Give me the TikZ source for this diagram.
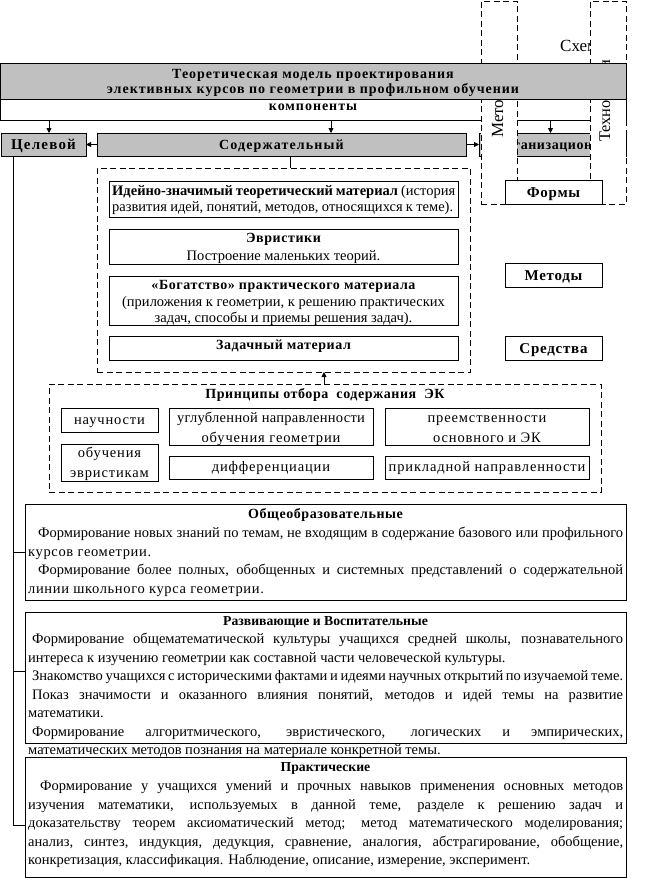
\documentclass[tikz,border=0pt]{standalone}
\usepackage{fontspec}
\setmainfont{Liberation Serif}
\newfontfamily\lsA[LetterSpace=4]{Liberation Serif}
\newfontfamily\lsB[LetterSpace=8]{Liberation Serif}
\newfontfamily\lsC[LetterSpace=6]{Liberation Serif}
\newfontfamily\lsD[LetterSpace=2]{Liberation Serif}
\newfontfamily\lsE[LetterSpace=5]{Liberation Serif}
\newfontfamily\lsT[LetterSpace=7]{Liberation Serif}
\newfontfamily\lsG[LetterSpace=4.5]{Liberation Serif}
\usetikzlibrary{arrows.meta,calc}
\definecolor{boxgray}{HTML}{C0C0C0}
\newcommand\bodyf{\fontsize{14.5}{16}\selectfont}
\newcommand\headf{\lsA\bfseries\fontsize{14}{16}\selectfont}
\newcommand\smallf{\lsC\fontsize{14.5}{16}\selectfont}
\newlength\jw
\setlength\jw{595pt}
\newcommand\jl[2][\jw]{{\spaceskip=0.25em plus 1em minus 0.12em\makebox[#1][s]{#2}}}
\tikzset{
 rbox/.style={draw, line width=0.8pt, inner sep=0pt, outer sep=0pt, anchor=north west, fill=white},
 gbox/.style={rbox, fill=boxgray},
 dbox/.style={draw, dash pattern=on 6pt off 3.5pt, line width=0.8pt, inner sep=0pt, outer sep=0pt, anchor=north west},
 txt/.style={inner sep=0pt, anchor=base, font=\bodyf},
 txtl/.style={inner sep=0pt, anchor=base west, font=\bodyf},
 hdr/.style={inner sep=0pt, anchor=base, font=\headf},
 hdrplain/.style={hdr, font=\bfseries\fontsize{13.7}{16}\selectfont},
 hdrwide/.style={hdr, font=\lsB\bfseries\fontsize{14}{16}\selectfont},
 hdrbig/.style={hdr, font=\lsE\bfseries\fontsize{15}{16}\selectfont},
 ttl/.style={hdr, font=\lsT\bfseries\fontsize{14}{16}\selectfont},
 ptxt/.style={txt, font=\smallf},
 vtxt/.style={inner sep=0pt, rotate=90, anchor=base west, font=\fontsize{17}{19}\selectfont},
 arr/.style={line width=0.8pt, -{Triangle[length=5pt,width=5pt]}},
 con/.style={line width=0.8pt},
}
\begin{document}
\begin{tikzpicture}[x=1pt,y=-1pt]
\useasboundingbox (0,0) rectangle (660,878);
% behind layer
\node[txtl, font=\fontsize{17}{19}\selectfont] (schema) at (560,51) {Схема};
\node[rbox, minimum width=626pt, minimum height=21pt] (komp) at (0,99) {};
\node[gbox, minimum width=147pt, minimum height=23pt] (org) at (479,133) {};
\node[hdr] (orgt) at (557.5,149) {Организационный};
% dashed columns
\node[dbox, fill=white, minimum width=36pt, minimum height=203pt] (meto) at (481,1) {};
\node[vtxt] (metot) at (503,138) {Методика};
\node[dbox, fill=white, minimum width=36pt, minimum height=203pt] (tech) at (590,1) {};
\node[vtxt, font=\fontsize{16.3}{19}\selectfont] (techt) at (610,142) {Технологии};
\draw[dash pattern=on 6pt off 3.5pt, line width=0.8pt] (meto.south east) -- (tech.south west);
% title
\node[gbox, minimum width=626pt, minimum height=36pt] (title) at (0,63) {};
\node[ttl] (t1) at (313,78) {Теоретическая модель проектирования};
\node[ttl] (t2) at (313,93) {элективных курсов по геометрии в профильном обучении};
\node[ttl] (kompt) at (313,110.5) {компоненты};
% components
\node[gbox, minimum width=85pt, minimum height=23pt] (celev) at (1,133) {};
\node[hdr, font=\lsB\bfseries\fontsize{15}{16}\selectfont] (celevt) at (43.5,149) {Целевой};
\node[gbox, minimum width=369pt, minimum height=23pt] (sod) at (97,133) {};
\node[hdrwide] (sodt) at (281.5,149) {Содержательный};
\draw[arr] ([xshift=5.5pt]celev.north |- komp.south) -- ([xshift=5.5pt]celev.north);
\draw[arr] ([xshift=49.5pt]sod.north |- komp.south) -- ([xshift=49.5pt]sod.north);
\draw[arr] ([xshift=-2pt]org.north |- komp.south) -- ([xshift=-2pt]org.north);
\draw[arr] (sod.west) -- (celev.east);
\draw[arr] (sod.east) -- (org.west);
% right boxes
\node[rbox, minimum width=97pt, minimum height=24pt] (formy) at (505,180) {};
\node[hdrbig] (formyt) at (553.5,197) {Формы};
\node[rbox, minimum width=97pt, minimum height=24pt] (metody) at (505,263) {};
\node[hdrbig] (metodyt) at (553.5,280) {Методы};
\node[rbox, minimum width=97pt, minimum height=24pt] (sredstva) at (505,336) {};
\node[hdrbig] (sredstvat) at (553.5,353) {Средства};
% content container
\node[dbox, minimum width=373pt, minimum height=204pt] (cont1) at (97,168) {};
\draw[con] ([xshift=8.5pt]sod.south) -- ([xshift=8.5pt]sod.south |- cont1.north);
\node[rbox, minimum width=349pt, minimum height=36pt] (b1) at (109,181) {};
\node[txtl] (b1a) at (112,195) {\jl[343pt]{\textbf{Идейно-значимый теоретический материал} (история}};
\node[txtl] (b1b) at (112,211) {\jl[341pt]{развития идей, понятий, методов, относящихся к теме).}};
\node[rbox, minimum width=349pt, minimum height=35pt] (b2) at (109,229) {};
\node[hdr] (b2a) at (283.5,242) {Эвристики};
\node[txt] (b2b) at (283.5,260) {Построение маленьких теорий.};
\node[rbox, minimum width=349pt, minimum height=49pt] (b3) at (109,276) {};
\node[hdr] (b3a) at (283.5,289) {«Богатство» практического материала};
\node[txt] (b3b) at (283.5,306) {(приложения к геометрии, к решению практических};
\node[txt] (b3c) at (283.5,322) {задач, способы и приемы решения задач).};
\node[rbox, minimum width=349pt, minimum height=24pt] (b4) at (109,336) {};
\node[hdr] (b4a) at (283.5,349) {Задачный материал};
% principles
\node[dbox, minimum width=552pt, minimum height=108pt] (cont2) at (49,384) {};
\draw[arr] ([xshift=-1pt]cont2.north) -- ([xshift=-1pt]cont2.north |- cont1.south);
\node[hdr] (pt) at (325,398) {Принципы отбора\ \ содержания\ \ ЭК};
\node[rbox, minimum width=97pt, minimum height=24pt] (p1) at (61,408) {};
\node[ptxt] (p1t) at (109.5,424) {научности};
\node[rbox, minimum width=204pt, minimum height=37pt] (p2) at (169,408) {};
\node[ptxt, font=\lsD\fontsize{14.5}{16}\selectfont] (p2a) at (271,422) {углубленной направленности};
\node[ptxt] (p2b) at (271,442) {обучения геометрии};
\node[rbox, minimum width=204pt, minimum height=37pt] (p3) at (385,408) {};
\node[ptxt] (p3a) at (487,422) {преемственности};
\node[ptxt] (p3b) at (487,442) {основного и ЭК};
\node[rbox, minimum width=97pt, minimum height=37pt] (p4) at (61,444) {};
\node[ptxt] (p4a) at (109.5,457) {обучения};
\node[ptxt] (p4b) at (109.5,477) {эвристикам};
\node[rbox, minimum width=204pt, minimum height=23pt] (p5) at (169,456) {};
\node[ptxt] (p5t) at (271,471) {дифференциации};
\node[rbox, minimum width=204pt, minimum height=23pt] (p6) at (385,456) {};
\node[ptxt] (p6t) at (487,471) {прикладной направленности};
% goal boxes
\node[rbox, minimum width=601pt, minimum height=96pt] (obsch) at (25,504) {};
\node[rbox, minimum width=601pt, minimum height=131pt] (razv) at (25,612) {};
\node[rbox, minimum width=601pt, minimum height=120pt] (prakt) at (25,757) {};
\coordinate (trunk) at ([xshift=12pt]celev.south west);
\coordinate (razvin) at ([yshift=6.5pt]razv.west);
\coordinate (praktin) at ([yshift=-8pt]prakt.west);
\draw[con] (trunk) |- (praktin);
\draw[con] (trunk |- obsch.west) -- (obsch.west);
\draw[con] (trunk |- razvin) -- (razvin);
% texts
\node[hdr] (ob0) at (325.5,518) {Общеобразовательные};
\node[txtl] (ob1) at (28,537) {\jl{\hspace*{10pt}Формирование новых знаний по темам, не входящим в содержание базового или профильного}};
\node[txtl, font=\lsG\fontsize{14.5}{16}\selectfont] (ob2) at (28,556) {курсов геометрии.};
\node[txtl] (ob3) at (28,574) {\jl{\hspace*{10pt}Формирование более полных, обобщенных и системных представлений о содержательной}};
\node[txtl, font=\lsG\fontsize{14.5}{16}\selectfont] (ob4) at (28,593) {линии школьного курса геометрии.};
\node[hdrplain] (rz0) at (325.5,625) {Развивающие и Воспитательные};
\node[txtl] (rz1) at (28,643) {\jl{\hspace*{4pt}Формирование общематематической культуры учащихся средней школы, познавательного}};
\node[txtl] (rz2) at (28,662) {интереса к изучению геометрии как составной части человеческой культуры.};
\node[txtl] (rz3) at (28,680) {\jl{\hspace*{4pt}Знакомство учащихся с историческими фактами и идеями научных открытий по изучаемой теме.}};
\node[txtl] (rz4) at (28,699) {\jl{\hspace*{4pt}Показ значимости и оказанного влияния понятий, методов и идей темы на развитие}};
\node[txtl] (rz5) at (28,717) {математики.};
\node[txtl] (rz6) at (28,736) {\jl{\hspace*{4pt}Формирование алгоритмического, эвристического, логических и эмпирических,}};
\node[txtl] (rz7) at (28,754) {математических методов познания на материале конкретной темы.};
\node[hdrplain] (pr0) at (325.5,771) {Практические};
\node[txtl] (pr1) at (28,790) {\jl{\hspace*{12pt}Формирование у учащихся умений и прочных навыков применения основных методов}};
\node[txtl] (pr2) at (28,809) {\jl{изучения математики, используемых в данной теме, разделе к решению задач и}};
\node[txtl] (pr3) at (28,827) {\jl{доказательству теорем аксиоматический метод; метод математического моделирования;}};
\node[txtl] (pr4) at (28,846) {\jl{анализ, синтез, индукция, дедукция, сравнение, аналогия, абстрагирование, обобщение,}};
\node[txtl] (pr5) at (28,864) {конкретизация, классификация. Наблюдение, описание, измерение, эксперимент.};
\end{tikzpicture}
\end{document}
